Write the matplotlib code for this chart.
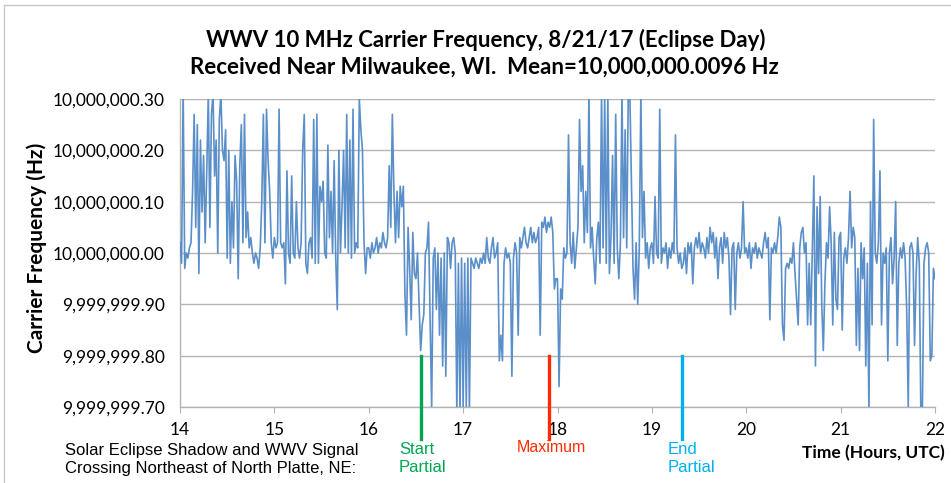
import numpy as np
import matplotlib
matplotlib.use('Agg')
import matplotlib.pyplot as plt
from matplotlib.lines import Line2D

# offsets from 10,000,000 Hz in units of 0.01 Hz, one value per minute, per hour (UTC)
hz_14 = [2, -2, 32, -3, 0, -1, 1, 2, 12, 27, 5, 25, -4, 22, 8, 19, 2, 16, 31, 5,
         27, 31, 15, 22, 0, 26, 31, 20, 18, 24, -1, 20, -2, 10, 1, 19, 14, -5, 17, 25,
         2, 27, 3, 8, 1, 3, 0, -2, 0, -1, -3, 1, 10, 27, 2, 28, 18, 12, 2, -1]
hz_15 = [3, 1, 2, 28, 2, 1, 2, -6, 16, 0, -2, 15, 0, -1, 10, 1, -1, 2, 20, 27,
         -2, -4, 2, 3, -1, 26, -2, 27, -2, 13, 10, 14, 0, -1, 21, 3, 12, 0, 18, -1,
         -11, 20, 0, 9, 20, 1, 27, 0, 22, -1, 28, 0, 2, 1, 30, 24, 20, 2, -4, 1]
hz_16 = [1, -1, 2, 0, 1, 3, 0, 2, 1, 4, 2, 1, 3, 17, 5, 27, 12, 2, 12, 3,
         13, 9, 13, -8, -16, 5, -3, -13, 4, -4, -5, 0, -10, -19, -14, -12, 0, 1, 6, -13,
         -30, -1, 1, -11, 0, -16, -1, -22, 0, -24, 3, 2, -3, 2, 3, 0, -31, -2, -31, -1]
hz_17 = [-30, -2, -30, -1, -31, -1, -2, -3, -1, -2, -3, -1, -2, 0, -2, 3, -1, -2, 1, 3,
         -1, 0, 2, -21, -16, -21, -2, 1, -1, 0, -2, -24, -1, 2, 0, -16, 3, 1, 3, 5,
         2, 1, 3, 5, 2, 4, 2, 3, 5, -16, 6, 5, 7, 4, 6, 5, 7, 4, -7, -5]
hz_18 = [-5, -26, -7, -9, 1, -1, 0, 23, 2, -2, 4, -3, 1, 5, 26, 12, 17, 2, 12, 4,
         31, 1, 5, -1, -6, 3, 6, -2, 31, 1, 31, -2, 31, -4, 3, 19, -2, 27, 1, -5,
         2, 31, 3, 24, 1, 31, 31, 14, -3, -9, 2, -10, 1, 31, 3, 12, -1, 2, -3, 1]
hz_19 = [2, -2, 11, 0, -1, 28, -2, 1, 0, 2, -3, 1, -1, 2, 0, 23, 1, -2, 0, -3,
         -2, 1, -4, 2, 0, 2, -6, 1, 3, 1, 4, 0, 2, 1, -1, 3, 0, 5, 2, 4,
         -1, 3, -5, 1, 3, -2, 4, 1, 3, -1, -12, 1, 2, -11, 0, 2, -1, 1, 10, 0]
hz_20 = [1, -1, 2, -3, 1, 0, 2, -1, 1, 0, -1, 2, 4, 1, 3, -13, 1, 0, 2, 0,
         3, 7, 5, -14, -17, -3, -2, -3, -1, -2, 2, -4, -9, -14, 1, 4, 5, 0, 2, -14,
         -2, -14, 1, 15, -22, 9, -4, 11, -10, -19, -6, 2, -1, 9, 2, -14, 4, -9, -11, 3]
hz_21 = [4, -15, -1, 1, -2, 3, 12, 1, 5, 3, -18, -3, -19, 2, -5, 1, -22, -2, -31, 10,
         -14, 26, 0, -2, 2, 16, -14, 0, -2, 1, -21, 0, 3, -6, -1, 10, -18, -2, 1, -1,
         2, -1, -11, -30, 1, 2, 0, -18, -4, 3, -2, -31, -30, -2, 1, 2, 0, -21, -20, -3]
hz_22 = [-5]

hours = [14, 15, 16, 17, 18, 19, 20, 21]
segments = [hz_14, hz_15, hz_16, hz_17, hz_18, hz_19, hz_20, hz_21]

ytick_vals = [-0.30, -0.20, -0.10, 0.0, 0.10, 0.20, 0.30]
ytick_labels = ['9,999,999.70', '9,999,999.80', '9,999,999.90', '10,000,000.00',
                '10,000,000.10', '10,000,000.20', '10,000,000.30']
xtick_vals = [14, 15, 16, 17, 18, 19, 20, 21, 22]

event_times = [16.55, 17.915, 19.317]
event_colors = ['#00A651', '#FF2A00', '#00B0F0']

t_parts, f_parts = [], []
for h, vals in zip(hours, segments):
    t_parts.append(h + np.arange(len(vals)) / len(vals))
    f_parts.append(np.array(vals, dtype=float))
t = np.concatenate(t_parts + [np.array([22.0])])
f = np.concatenate(f_parts + [np.array(hz_22, dtype=float)]) / 100.0

W, H = 951, 483
fig = plt.figure(figsize=(W / 100, H / 100), dpi=100)
calib = ['Lato', 'DejaVu Sans']
arial = ['Liberation Sans', 'DejaVu Sans']

ax = fig.add_axes([180 / W, 1 - 407 / H, 755 / W, 308 / H])
ax.plot(t, f, color='#5B8FC9', lw=1.2, zorder=3)
ax.set_xlim(14, 22)
ax.set_ylim(-0.30, 0.30)
ax.set_yticks(ytick_vals)
ax.set_yticklabels(ytick_labels, family=calib, fontsize=12.5)
ax.set_xticks(xtick_vals)
ax.set_xticklabels([str(v) for v in xtick_vals], family=calib, fontsize=12.5)
ax.yaxis.grid(True, color='#B4B4B4', lw=1.0)
ax.set_axisbelow(True)
for s in ['top', 'right']:
    ax.spines[s].set_visible(False)
for s in ['left', 'bottom']:
    ax.spines[s].set_color('#B4B4B4')
    ax.spines[s].set_linewidth(1.0)
ax.tick_params(axis='y', length=0, pad=11)
ax.tick_params(axis='x', length=4, color='#B4B4B4', pad=7)

for x, c in zip(event_times, event_colors):
    ax.add_line(Line2D([x, x], [-0.20, -0.362], color=c, lw=2.4, clip_on=False, zorder=4))

fig.text(37 / W, 1 - 248 / H, 'Carrier Frequency (Hz)', rotation=90, ha='center', va='center',
         family=calib, fontsize=15, fontweight='bold')
fig.text(486 / W, 1 - 40 / H, 'WWV 10 MHz Carrier Frequency, 8/21/17 (Eclipse Day)',
         ha='center', va='center', family=calib, fontsize=16, fontweight='bold')
fig.text(484 / W, 1 - 67 / H, 'Received Near Milwaukee, WI.  Mean=10,000,000.0096 Hz',
         ha='center', va='center', family=calib, fontsize=16, fontweight='bold')

fig.text(65 / W, 1 - 450 / H, 'Solar Eclipse Shadow and WWV Signal', ha='left', va='center',
         family=arial, fontsize=12)
fig.text(65 / W, 1 - 468 / H, 'Crossing Northeast of North Platte, NE:', ha='left', va='center',
         family=arial, fontsize=12)
fig.text(399 / W, 1 - 450 / H, 'Start', ha='left', va='center', family=arial,
         fontsize=12, color=event_colors[0])
fig.text(399 / W, 1 - 468 / H, 'Partial', ha='left', va='center', family=arial,
         fontsize=12, color=event_colors[0])
fig.text(551 / W, 1 - 447 / H, 'Maximum', ha='center', va='center', family=arial,
         fontsize=11.5, color=event_colors[1])
fig.text(668 / W, 1 - 450 / H, 'End', ha='left', va='center', family=arial,
         fontsize=12, color=event_colors[2])
fig.text(668 / W, 1 - 468 / H, 'Partial', ha='left', va='center', family=arial,
         fontsize=12, color=event_colors[2])
fig.text(945 / W, 1 - 453 / H, 'Time (Hours, UTC)', ha='right', va='center', family=calib,
         fontsize=12.5, fontweight='bold')

# light chart-area border (left and top edges)
fig.add_artist(Line2D([4 / W, 4 / W], [0, 1 - 5 / H], color='#C8C8C8', lw=1.0))
fig.add_artist(Line2D([4 / W, 1], [1 - 5 / H, 1 - 5 / H], color='#C8C8C8', lw=1.0))

fig.savefig('out.png', dpi=100)
